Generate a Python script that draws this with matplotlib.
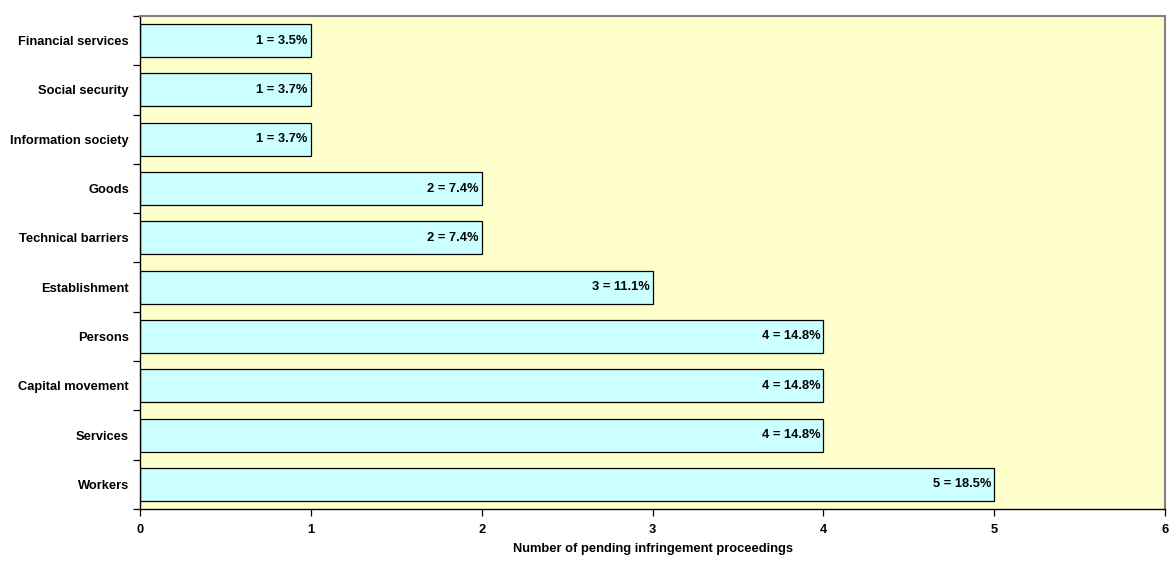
import numpy as np
import matplotlib.pyplot as plt
from matplotlib.ticker import FixedLocator, NullFormatter

plt.rcParams['font.family'] = ['Liberation Sans', 'DejaVu Sans']

# ============== data (bottom to top) ==============
categories = ["Workers", "Services", "Capital movement", "Persons", "Establishment",
              "Technical barriers", "Goods", "Information society", "Social security",
              "Financial services"]
counts = [5, 4, 4, 4, 3, 2, 2, 1, 1, 1]
percents = ["18.5%", "14.8%", "14.8%", "14.8%", "11.1%", "7.4%", "7.4%", "3.7%", "3.7%", "3.5%"]

fs = 9.3

fig = plt.figure(figsize=(11.7, 5.61), dpi=100)
ax = fig.add_axes([0.1197, 0.0927, 0.8761, 0.8788])
ax.set_facecolor("#FFFFCC")

y = np.arange(len(categories))
ax.barh(y, counts, height=0.67, color="#CCFFFF", edgecolor="black", linewidth=0.9)

# value labels inside the bar ends
for yi, c, p in zip(y, counts, percents):
    ax.text(c - 0.018, yi, f"{c} = {p}", ha="right", va="center",
            fontsize=fs, fontweight="bold")

ax.set_xlim(0, 6)
ax.set_ylim(-0.5, len(categories) - 0.5)
ax.set_xticks(range(7))
ax.set_yticks(y)
ax.set_yticklabels(categories)
# tick marks sit between categories
ax.yaxis.set_minor_locator(FixedLocator(np.arange(-0.5, len(categories), 1.0)))
ax.yaxis.set_minor_formatter(NullFormatter())
ax.tick_params(axis="y", which="major", length=0, pad=8, labelsize=fs)
ax.tick_params(axis="y", which="minor", length=5, width=0.9, direction="out")
ax.tick_params(axis="x", length=5, width=0.9, direction="out", labelsize=fs, pad=5.5)
for lab in ax.get_xticklabels() + ax.get_yticklabels():
    lab.set_fontweight("bold")

ax.set_xlabel("Number of pending infringement proceedings", fontsize=fs,
              fontweight="bold", labelpad=5)

for s in ["top", "right"]:
    ax.spines[s].set_color("#808080")
    ax.spines[s].set_linewidth(1.5)
for s in ["left", "bottom"]:
    ax.spines[s].set_color("black")
    ax.spines[s].set_linewidth(1.0)

fig.savefig("out.png", dpi=100)
